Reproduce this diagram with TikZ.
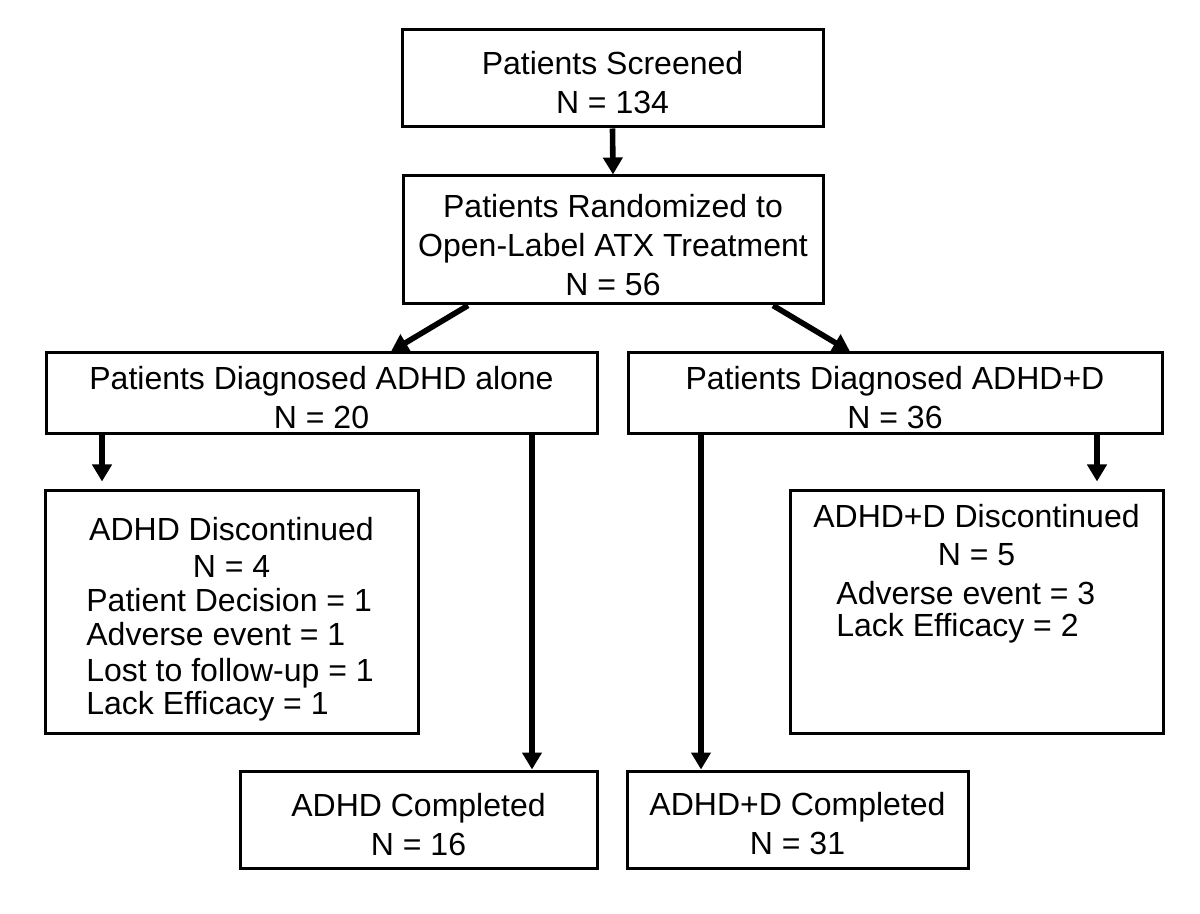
\documentclass[tikz,border=0pt]{standalone}
\usepackage{fontspec}
\setmainfont{Liberation Sans}
\usetikzlibrary{arrows.meta}
\begin{document}
\begin{tikzpicture}[x=0.5pt,y=-0.5pt,
  frame/.style={draw,line width=1.5pt,inner sep=0pt},
  txt/.style={inner sep=0pt,align=center,font=\fontsize{16}{19.5}\selectfont},
  arr/.style={line width=2.8pt,-{Triangle[width=9.5pt,length=8.5pt]}}]
\useasboundingbox (0,0) rectangle (1200,914);
% boxes
\node[frame,minimum width=210.5pt,minimum height=48.5pt] (b1) at (612.5,78.5) {};
\node[frame,minimum width=210pt,minimum height=64pt] (b2) at (613,240) {};
\node[frame,minimum width=275.5pt,minimum height=40.5pt] (b3L) at (321.5,393.5) {};
\node[frame,minimum width=267pt,minimum height=40.5pt] (b3R) at (895,393.5) {};
\node[frame,minimum width=186.5pt,minimum height=121pt] (dL) at (231.5,612) {};
\node[frame,minimum width=186.5pt,minimum height=121pt] (dR) at (976.5,612) {};
\node[frame,minimum width=178.5pt,minimum height=48.5pt] (cL) at (418.5,819.5) {};
\node[frame,minimum width=170.5pt,minimum height=48.5pt] (cR) at (797.5,819.5) {};
% box texts
\node[txt] (b1t) at ([yshift=-2pt]b1.center) {Patients Screened\\N = 134};
\node[txt] (b2t) at ([yshift=-2.5pt]b2.center) {Patients Randomized to\\Open-Label ATX Treatment\\N = 56};
\node[txt] (b3Lt) at ([yshift=-2pt]b3L.center) {Patients Diagnosed ADHD alone\\N = 20};
\node[txt] (b3Rt) at ([yshift=-2pt]b3R.center) {Patients Diagnosed ADHD+D\\N = 36};
\node[txt] (cLt) at ([yshift=-2.5pt]cL.center) {ADHD Completed\\N = 16};
\node[txt] (cRt) at ([yshift=-2pt]cR.center) {ADHD+D Completed\\N = 31};
% texts in discontinued boxes
\node[txt,anchor=base] (dLh) at (231.5,541) {ADHD Discontinued};
\node[txt,anchor=base] (dLn) at (231.5,577) {N = 4};
\node[txt,anchor=base west] (dL1) at (86,611) {Patient Decision = 1};
\node[txt,anchor=base west] (dL2) at (86,646) {Adverse event = 1};
\node[txt,anchor=base west] (dL3) at (86,681) {Lost to follow-up = 1};
\node[txt,anchor=base west] (dL4) at (86,714) {Lack Efficacy = 1};
\node[txt,anchor=base] (dRh) at (976.5,528) {ADHD+D Discontinued};
\node[txt,anchor=base] (dRn) at (976.5,566) {N = 5};
\node[txt,anchor=base west] (dR1) at (836,604) {Adverse event = 3};
\node[txt,anchor=base west] (dR2) at (836,636) {Lack Efficacy = 2};
% connector x positions
\coordinate (xa) at (468,0);
\coordinate (xb) at (391,0);
\coordinate (xc) at (773,0);
\coordinate (xd) at (850,0);
\coordinate (xe) at (102,0);
\coordinate (xf) at (532,0);
\coordinate (xg) at (701,0);
\coordinate (xh) at (1097,0);
% connectors
\draw[arr] (b1.south) -- (b2.north);
\draw[arr] (b2.south -| xa) -- (b3L.north -| xb);
\draw[arr] (b2.south -| xc) -- (b3R.north -| xd);
\draw[arr,shorten >=4pt] (b3L.south -| xe) -- (dL.north -| xe);
\draw[arr] (b3L.south -| xf) -- (cL.north -| xf);
\draw[arr] (b3R.south -| xg) -- (cR.north -| xg);
\draw[arr,shorten >=4pt] (b3R.south -| xh) -- (dR.north -| xh);
\end{tikzpicture}
\end{document}
